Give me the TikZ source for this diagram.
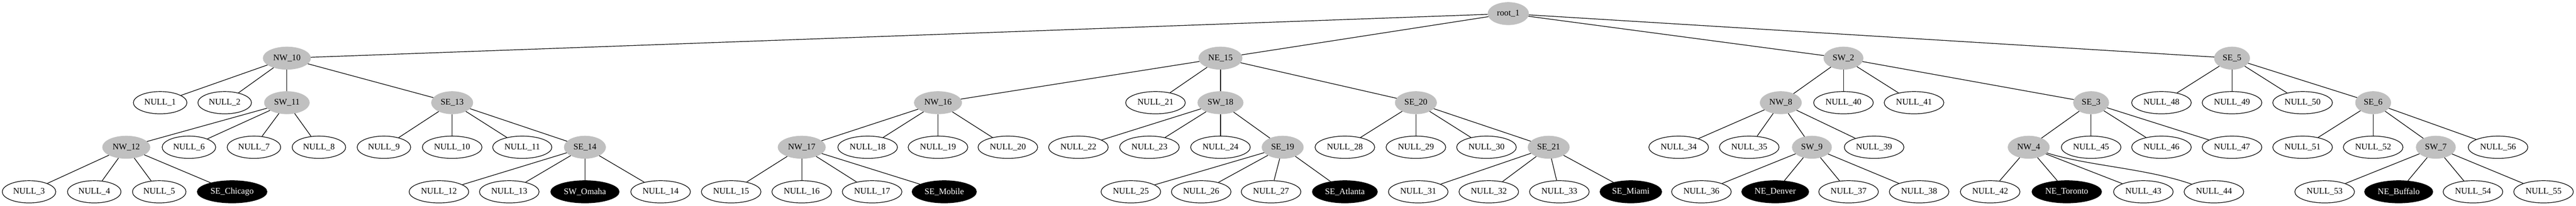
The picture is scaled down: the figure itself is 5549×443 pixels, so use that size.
\documentclass[tikz,border=0pt]{standalone}
\usepackage{fontspec}
\setmainfont{Liberation Serif}
\usetikzlibrary{shapes.geometric}
\definecolor{gvgray}{RGB}{192,192,192}
\tikzset{
  base/.style={ellipse, minimum width=54bp, minimum height=36bp, inner xsep=5bp, inner ysep=0bp,
    font=\fontsize{14}{16}\selectfont, line width=1bp},
  nnode/.style={base, draw=black, fill=white},
  gnode/.style={base, draw=gvgray, fill=gvgray},
  bnode/.style={base, draw=black, fill=black, text=white},
  edgeline/.style={line width=1bp, draw=black},
}
\begin{document}
\begin{tikzpicture}[x=0.75bp, y=-0.75bp]
\useasboundingbox (0,0) rectangle (5549,443);
% level 0
\node[gnode] (root) at (3249,29.3) {root\_1};
% level 1
\node[gnode] (NW10) at (618,125.3) {NW\_10};
\node[gnode] (NE15) at (2629,125.3) {NE\_15};
\node[gnode] (SW2) at (3971,125.3) {SW\_2};
\node[gnode] (SE5) at (4808,125.3) {SE\_5};
% level 2
\node[nnode] (N1) at (345,221.3) {NULL\_1};
\node[nnode] (N2) at (484,221.3) {NULL\_2};
\node[gnode] (SW11) at (618,221.3) {SW\_11};
\node[gnode] (SE13) at (974,221.3) {SE\_13};
\node[gnode] (NW16) at (2020.5,221.3) {NW\_16};
\node[nnode] (N21) at (2489,221.3) {NULL\_21};
\node[gnode] (SW18) at (2629,221.3) {SW\_18};
\node[gnode] (SE20) at (3050,221.3) {SE\_20};
\node[gnode] (NW8) at (3836,221.3) {NW\_8};
\node[nnode] (N40) at (3971,221.3) {NULL\_40};
\node[nnode] (N41) at (4123,221.3) {NULL\_41};
\node[gnode] (SE3) at (4504.5,221.3) {SE\_3};
\node[nnode] (N48) at (4656,221.3) {NULL\_48};
\node[nnode] (N49) at (4808,221.3) {NULL\_49};
\node[nnode] (N50) at (4960,221.3) {NULL\_50};
\node[gnode] (SE6) at (5112,221.3) {SE\_6};
% level 3
\node[gnode] (NW12) at (272,317.3) {NW\_12};
\node[nnode] (N6) at (407,317.3) {NULL\_6};
\node[nnode] (N7) at (547,317.3) {NULL\_7};
\node[nnode] (N8) at (687,317.3) {NULL\_8};
\node[nnode] (N9) at (827,317.3) {NULL\_9};
\node[nnode] (N10) at (974,317.3) {NULL\_10};
\node[nnode] (N11) at (1125,317.3) {NULL\_11};
\node[gnode] (SE14) at (1260,317.3) {SE\_14};
\node[gnode] (NW17) at (1727,317.3) {NW\_17};
\node[nnode] (N18) at (1869,317.3) {NULL\_18};
\node[nnode] (N19) at (2020.5,317.3) {NULL\_19};
\node[nnode] (N20) at (2171,317.3) {NULL\_20};
\node[nnode] (N22) at (2323,317.3) {NULL\_22};
\node[nnode] (N23) at (2476,317.3) {NULL\_23};
\node[nnode] (N24) at (2629,317.3) {NULL\_24};
\node[gnode] (SE19) at (2763,317.3) {SE\_19};
\node[nnode] (N28) at (2897,317.3) {NULL\_28};
\node[nnode] (N29) at (3050,317.3) {NULL\_29};
\node[nnode] (N30) at (3202,317.3) {NULL\_30};
\node[gnode] (SE21) at (3336,317.3) {SE\_21};
\node[nnode] (N34) at (3616,317.3) {NULL\_34};
\node[nnode] (N35) at (3768,317.3) {NULL\_35};
\node[gnode] (SW9) at (3903,317.3) {SW\_9};
\node[nnode] (N39) at (4037,317.3) {NULL\_39};
\node[gnode] (NW4) at (4370,317.3) {NW\_4};
\node[nnode] (N45) at (4504.5,317.3) {NULL\_45};
\node[nnode] (N46) at (4656,317.3) {NULL\_46};
\node[nnode] (N47) at (4808,317.3) {NULL\_47};
\node[nnode] (N51) at (4960,317.3) {NULL\_51};
\node[nnode] (N52) at (5112,317.3) {NULL\_52};
\node[gnode] (SW7) at (5247,317.3) {SW\_7};
\node[nnode] (N56) at (5381,317.3) {NULL\_56};
% level 4
\node[nnode] (N3) at (62.5,413.3) {NULL\_3};
\node[nnode] (N4) at (203,413.3) {NULL\_4};
\node[nnode] (N5) at (343,413.3) {NULL\_5};
\node[bnode] (Chicago) at (500,413.3) {SE\_Chicago};
\node[nnode] (N12) at (945.5,413.3) {NULL\_12};
\node[nnode] (N13) at (1097,413.3) {NULL\_13};
\node[bnode] (Omaha) at (1260,413.3) {SW\_Omaha};
\node[nnode] (N14) at (1423,413.3) {NULL\_14};
\node[nnode] (N15) at (1575,413.3) {NULL\_15};
\node[nnode] (N16) at (1727,413.3) {NULL\_16};
\node[nnode] (N17) at (1878.6,413.3) {NULL\_17};
\node[bnode] (Mobile) at (2034,413.3) {SE\_Mobile};
\node[nnode] (N25) at (2436,413.3) {NULL\_25};
\node[nnode] (N26) at (2587.5,413.3) {NULL\_26};
\node[nnode] (N27) at (2738,413.3) {NULL\_27};
\node[bnode] (Atlanta) at (2897,413.3) {SE\_Atlanta};
\node[nnode] (N31) at (3055,413.3) {NULL\_31};
\node[nnode] (N32) at (3207,413.3) {NULL\_32};
\node[nnode] (N33) at (3359,413.3) {NULL\_33};
\node[bnode] (Miami) at (3513,413.3) {SE\_Miami};
\node[nnode] (N36) at (3665,413.3) {NULL\_36};
\node[bnode] (Denver) at (3824,413.3) {NE\_Denver};
\node[nnode] (N37) at (3982,413.3) {NULL\_37};
\node[nnode] (N38) at (4134,413.3) {NULL\_38};
\node[nnode] (N42) at (4287,413.3) {NULL\_42};
\node[bnode] (Toronto) at (4452,413.3) {NE\_Toronto};
\node[nnode] (N43) at (4617,413.3) {NULL\_43};
\node[nnode] (N44) at (4769,413.3) {NULL\_44};
\node[nnode] (N53) at (5007.5,413.3) {NULL\_53};
\node[bnode] (Buffalo) at (5167,413.3) {NE\_Buffalo};
\node[nnode] (N54) at (5327,413.3) {NULL\_54};
\node[nnode] (N55) at (5479,413.3) {NULL\_55};
% edges
\foreach \a/\b in {root/NW10, root/NE15, root/SW2, root/SE5,
  NW10/N1, NW10/N2, NW10/SW11, NW10/SE13,
  SW11/NW12, SW11/N6, SW11/N7, SW11/N8,
  NW12/N3, NW12/N4, NW12/N5, NW12/Chicago,
  SE13/N9, SE13/N10, SE13/N11, SE13/SE14,
  SE14/N12, SE14/N13, SE14/Omaha, SE14/N14,
  NE15/NW16, NE15/N21, NE15/SW18, NE15/SE20,
  NW16/NW17, NW16/N18, NW16/N19, NW16/N20,
  NW17/N15, NW17/N16, NW17/N17, NW17/Mobile,
  SW18/N22, SW18/N23, SW18/N24, SW18/SE19,
  SE19/N25, SE19/N26, SE19/N27, SE19/Atlanta,
  SE20/N28, SE20/N29, SE20/N30, SE20/SE21,
  SE21/N31, SE21/N32, SE21/N33, SE21/Miami,
  SW2/NW8, SW2/N40, SW2/N41, SW2/SE3,
  NW8/N34, NW8/N35, NW8/SW9, NW8/N39,
  SW9/N36, SW9/Denver, SW9/N37, SW9/N38,
  SE3/NW4, SE3/N45, SE3/N46, SE3/N47,
  NW4/N42, NW4/Toronto, NW4/N43,
  SE5/N48, SE5/N49, SE5/N50, SE5/SE6,
  SE6/N51, SE6/N52, SE6/SW7, SE6/N56,
  SW7/N53, SW7/Buffalo, SW7/N54, SW7/N55}
  \draw[edgeline] (\a) -- (\b);
\draw[edgeline] (NW4) .. controls (4500,358) and (4620,362) .. (N44);
\end{tikzpicture}
\end{document}
